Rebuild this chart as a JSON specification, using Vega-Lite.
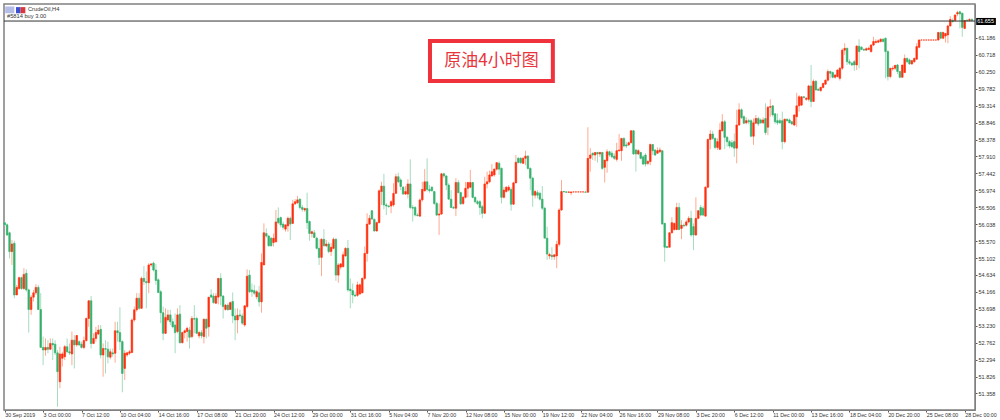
{"$schema":"https://vega.github.io/schema/vega-lite/v6.json","width":971,"height":406,"autosize":{"type":"none"},"padding":{"left":4,"top":4,"right":25,"bottom":10},"background":"#ffffff","view":{"stroke":"#808080","strokeWidth":1.5},"resolve":{"axis":{"x":"independent","y":"independent"}},
"datasets":{"candles":[
{"b":0,"o":56.08,"h":56.11,"l":55.99,"c":56.02},{"b":1,"o":56.02,"h":56.06,"l":55.71,"c":55.74},{"b":2,"o":55.8,"h":55.83,"l":55.09,"c":55.28},{"b":3,"o":55.28,"h":55.6,"l":54.91,"c":55.49},{"b":4,"o":55.51,"h":55.58,"l":53.99,"c":54.08},{"b":5,"o":54.08,"h":54.36,"l":54.08,"c":54.29},{"b":6,"o":54.26,"h":54.59,"l":54.22,"c":54.56},{"b":7,"o":54.56,"h":54.59,"l":54.22,"c":54.26},{"b":8,"o":54.26,"h":54.82,"l":54.22,"c":54.65},{"b":9,"o":54.68,"h":54.79,"l":54.17,"c":54.22},
{"b":10,"o":54.22,"h":54.26,"l":53.04,"c":53.68},{"b":11,"o":53.68,"h":54.08,"l":53.53,"c":54.02},{"b":12,"o":54.02,"h":54.22,"l":53.9,"c":54.14},{"b":13,"o":54.14,"h":54.38,"l":54.08,"c":54.29},{"b":14,"o":54.29,"h":54.36,"l":53.67,"c":53.68},{"b":15,"o":53.68,"h":54.13,"l":52.63,"c":52.63},{"b":16,"o":52.63,"h":52.93,"l":52.14,"c":52.56},{"b":17,"o":52.56,"h":52.88,"l":52.4,"c":52.63},{"b":18,"o":52.63,"h":52.83,"l":52.47,"c":52.58},{"b":19,"o":52.58,"h":52.88,"l":52.56,"c":52.74},
{"b":20,"o":52.74,"h":52.88,"l":52.28,"c":52.7},{"b":21,"o":52.72,"h":52.83,"l":52.42,"c":52.48},{"b":22,"o":52.48,"h":52.56,"l":50.99,"c":51.96},{"b":23,"o":51.68,"h":52.65,"l":51.5,"c":52.45},{"b":24,"o":52.33,"h":52.51,"l":52.1,"c":52.45},{"b":25,"o":52.37,"h":52.7,"l":52.28,"c":52.65},{"b":26,"o":52.65,"h":52.88,"l":52.47,"c":52.51},{"b":27,"o":52.51,"h":52.74,"l":52.42,"c":52.48},{"b":28,"o":52.45,"h":53.07,"l":52.14,"c":52.83},{"b":29,"o":52.83,"h":52.97,"l":52.05,"c":52.7},
{"b":30,"o":52.7,"h":52.97,"l":52.65,"c":52.96},{"b":31,"o":52.79,"h":52.83,"l":52.67,"c":52.7},{"b":32,"o":52.72,"h":52.79,"l":52.6,"c":52.63},{"b":33,"o":52.63,"h":52.93,"l":52.58,"c":52.82},{"b":34,"o":52.82,"h":53.46,"l":52.79,"c":53.43},{"b":35,"o":53.43,"h":53.94,"l":53.2,"c":53.92},{"b":36,"o":53.92,"h":54.05,"l":52.6,"c":52.74},{"b":37,"o":52.74,"h":53.02,"l":52.72,"c":52.88},{"b":38,"o":52.88,"h":53.2,"l":52.79,"c":53.04},{"b":39,"o":53.0,"h":53.25,"l":52.97,"c":53.11},
{"b":40,"o":53.13,"h":53.25,"l":52.33,"c":52.42},{"b":41,"o":52.42,"h":52.74,"l":51.82,"c":52.6},{"b":42,"o":52.6,"h":52.83,"l":51.91,"c":52.58},{"b":43,"o":52.58,"h":52.79,"l":52.19,"c":52.37},{"b":44,"o":52.36,"h":52.6,"l":52.3,"c":52.51},{"b":45,"o":52.48,"h":52.6,"l":52.37,"c":52.45},{"b":46,"o":52.47,"h":53.34,"l":52.21,"c":53.09},{"b":47,"o":53.09,"h":53.34,"l":52.79,"c":53.04},{"b":48,"o":53.04,"h":53.74,"l":52.56,"c":52.79},{"b":49,"o":52.79,"h":52.83,"l":51.39,"c":51.91},
{"b":50,"o":52.05,"h":52.56,"l":51.73,"c":52.47},{"b":51,"o":52.42,"h":52.51,"l":52.37,"c":52.48},{"b":52,"o":52.47,"h":52.56,"l":52.42,"c":52.51},{"b":53,"o":52.49,"h":53.43,"l":52.47,"c":53.39},{"b":54,"o":53.39,"h":53.76,"l":53.34,"c":53.67},{"b":55,"o":53.67,"h":54.13,"l":53.62,"c":53.99},{"b":56,"o":53.99,"h":54.13,"l":53.67,"c":53.71},{"b":57,"o":53.71,"h":54.59,"l":53.71,"c":54.54},{"b":58,"o":54.54,"h":54.88,"l":54.36,"c":54.45},{"b":59,"o":54.45,"h":54.73,"l":53.71,"c":54.42},
{"b":60,"o":54.42,"h":54.96,"l":54.13,"c":54.91},{"b":61,"o":54.91,"h":54.96,"l":54.86,"c":54.94},{"b":62,"o":54.96,"h":55.0,"l":54.73,"c":54.77},{"b":63,"o":54.77,"h":54.94,"l":54.36,"c":54.48},{"b":64,"o":54.5,"h":54.54,"l":54.13,"c":54.15},{"b":65,"o":54.17,"h":54.22,"l":53.3,"c":53.59},{"b":66,"o":53.59,"h":53.76,"l":52.83,"c":53.02},{"b":67,"o":53.02,"h":53.71,"l":53.0,"c":53.46},{"b":68,"o":53.39,"h":53.67,"l":53.34,"c":53.53},{"b":69,"o":53.53,"h":53.67,"l":53.25,"c":53.34},
{"b":70,"o":53.34,"h":53.43,"l":53.16,"c":53.2},{"b":71,"o":53.25,"h":53.57,"l":52.47,"c":53.04},{"b":72,"o":53.07,"h":53.71,"l":53.02,"c":53.53},{"b":73,"o":53.55,"h":53.8,"l":52.74,"c":52.76},{"b":74,"o":52.76,"h":53.07,"l":52.74,"c":53.04},{"b":75,"o":53.04,"h":53.13,"l":52.88,"c":53.09},{"b":76,"o":53.07,"h":53.2,"l":52.79,"c":53.16},{"b":77,"o":53.11,"h":53.2,"l":52.6,"c":52.91},{"b":78,"o":52.93,"h":53.5,"l":52.88,"c":53.43},{"b":79,"o":53.43,"h":53.8,"l":53.02,"c":53.41},
{"b":80,"o":53.43,"h":53.48,"l":53.0,"c":53.02},{"b":81,"o":52.95,"h":53.09,"l":52.88,"c":53.04},{"b":82,"o":53.04,"h":53.11,"l":52.88,"c":52.95},{"b":83,"o":52.93,"h":53.43,"l":52.74,"c":53.41},{"b":84,"o":53.41,"h":53.43,"l":52.88,"c":53.16},{"b":85,"o":53.2,"h":54.02,"l":52.93,"c":54.02},{"b":86,"o":54.08,"h":54.24,"l":54.02,"c":54.02},{"b":87,"o":54.05,"h":54.13,"l":53.84,"c":53.87},{"b":88,"o":53.85,"h":54.13,"l":53.84,"c":54.05},{"b":89,"o":54.02,"h":54.54,"l":53.82,"c":54.54},
{"b":90,"o":54.54,"h":54.68,"l":53.8,"c":54.05},{"b":91,"o":54.05,"h":54.08,"l":53.43,"c":53.76},{"b":92,"o":53.68,"h":53.83,"l":53.65,"c":53.8},{"b":93,"o":53.8,"h":53.85,"l":53.65,"c":53.67},{"b":94,"o":53.68,"h":53.9,"l":53.67,"c":53.87},{"b":95,"o":53.9,"h":54.15,"l":53.3,"c":53.5},{"b":96,"o":53.5,"h":53.71,"l":52.83,"c":53.39},{"b":97,"o":53.39,"h":53.71,"l":53.02,"c":53.52},{"b":98,"o":53.53,"h":53.67,"l":53.43,"c":53.5},{"b":99,"o":53.5,"h":53.57,"l":53.25,"c":53.3},
{"b":100,"o":53.25,"h":53.8,"l":53.2,"c":53.78},{"b":101,"o":53.76,"h":54.79,"l":53.71,"c":54.6},
{"b":102,"o":54.63,"h":54.77,"l":54.13,"c":54.17},{"b":103,"o":54.22,"h":54.4,"l":54.03,"c":54.17},{"b":104,"o":54.2,"h":54.36,"l":54.08,"c":54.13},{"b":105,"o":54.03,"h":54.22,"l":53.96,"c":54.17},{"b":106,"o":54.14,"h":54.33,"l":53.76,"c":53.89},{"b":107,"o":53.89,"h":55.23,"l":53.59,"c":54.98},{"b":108,"o":54.91,"h":56.06,"l":54.91,"c":55.8},{"b":109,"o":55.78,"h":55.92,"l":55.67,"c":55.71},
{"b":110,"o":55.71,"h":55.74,"l":55.42,"c":55.44},{"b":111,"o":55.65,"h":55.69,"l":55.42,"c":55.44},{"b":112,"o":55.53,"h":55.78,"l":55.42,"c":55.65},{"b":113,"o":55.55,"h":56.43,"l":55.53,"c":56.1},{"b":114,"o":56.2,"h":56.5,"l":56.04,"c":56.08},{"b":115,"o":56.22,"h":56.25,"l":55.95,"c":56.02},{"b":116,"o":56.04,"h":56.11,"l":55.88,"c":55.95},{"b":117,"o":55.9,"h":56.02,"l":55.83,"c":56.02},{"b":118,"o":55.99,"h":56.25,"l":55.83,"c":56.2},{"b":119,"o":56.2,"h":56.25,"l":55.6,"c":56.04},
{"b":120,"o":56.06,"h":56.71,"l":56.04,"c":56.6},{"b":121,"o":56.6,"h":56.73,"l":56.57,"c":56.66},{"b":122,"o":56.63,"h":56.82,"l":56.6,"c":56.71},{"b":123,"o":56.73,"h":56.75,"l":56.45,"c":56.5},{"b":124,"o":56.5,"h":56.57,"l":56.38,"c":56.45},{"b":125,"o":56.43,"h":56.5,"l":56.38,"c":56.47},{"b":126,"o":56.47,"h":56.91,"l":55.9,"c":56.08},{"b":127,"o":56.11,"h":56.14,"l":55.58,"c":55.78},{"b":128,"o":55.78,"h":55.86,"l":55.67,"c":55.83},{"b":129,"o":55.8,"h":55.88,"l":55.65,"c":55.67},
{"b":130,"o":55.65,"h":55.69,"l":55.34,"c":55.37},{"b":131,"o":55.37,"h":55.62,"l":54.91,"c":55.12},{"b":132,"o":55.12,"h":55.65,"l":54.6,"c":55.62},{"b":133,"o":55.62,"h":55.9,"l":55.42,"c":55.44},{"b":134,"o":55.44,"h":55.6,"l":55.4,"c":55.49},{"b":135,"o":55.49,"h":55.55,"l":55.23,"c":55.28},{"b":136,"o":55.28,"h":55.51,"l":55.16,"c":55.4},{"b":137,"o":55.37,"h":55.67,"l":55.34,"c":55.62},{"b":138,"o":55.62,"h":55.65,"l":54.47,"c":54.63},{"b":139,"o":54.63,"h":54.96,"l":54.42,"c":54.91},
{"b":140,"o":54.85,"h":54.96,"l":54.79,"c":54.94},{"b":141,"o":54.86,"h":55.28,"l":54.85,"c":55.19},{"b":142,"o":55.16,"h":55.4,"l":55.14,"c":55.37},{"b":143,"o":55.37,"h":55.6,"l":54.17,"c":54.22},{"b":144,"o":54.24,"h":54.54,"l":53.71,"c":54.2},{"b":145,"o":54.2,"h":54.4,"l":53.85,"c":54.08},{"b":146,"o":54.08,"h":54.17,"l":54.03,"c":54.05},{"b":147,"o":54.07,"h":54.45,"l":54.03,"c":54.36},{"b":148,"o":54.11,"h":54.4,"l":54.08,"c":54.36},{"b":149,"o":54.14,"h":54.56,"l":54.13,"c":54.54},
{"b":150,"o":54.54,"h":55.42,"l":54.49,"c":55.23},{"b":151,"o":55.23,"h":56.34,"l":55.0,"c":56.04},{"b":152,"o":56.04,"h":56.29,"l":56.02,"c":56.2},{"b":153,"o":56.41,"h":56.43,"l":56.15,"c":56.18},{"b":154,"o":56.17,"h":56.2,"l":55.83,"c":55.85},{"b":155,"o":55.85,"h":56.11,"l":55.83,"c":56.08},{"b":156,"o":56.08,"h":57.0,"l":56.06,"c":56.96},{"b":157,"o":56.94,"h":57.21,"l":56.57,"c":57.09},{"b":158,"o":57.09,"h":57.43,"l":56.45,"c":56.57},{"b":159,"o":56.57,"h":56.62,"l":56.29,"c":56.54},
{"b":160,"o":56.54,"h":56.57,"l":56.5,"c":56.52},{"b":161,"o":56.54,"h":56.71,"l":56.34,"c":56.66},{"b":162,"o":56.57,"h":57.17,"l":56.52,"c":56.89},{"b":163,"o":56.89,"h":57.43,"l":56.87,"c":57.35},{"b":164,"o":57.35,"h":57.46,"l":57.17,"c":57.21},{"b":165,"o":57.26,"h":57.31,"l":56.98,"c":57.08},{"b":166,"o":57.06,"h":57.09,"l":56.85,"c":56.87},{"b":167,"o":56.87,"h":57.09,"l":56.85,"c":56.94},{"b":168,"o":56.87,"h":57.28,"l":56.75,"c":57.15},{"b":169,"o":57.15,"h":57.83,"l":56.45,"c":56.5},
{"b":170,"o":56.5,"h":56.57,"l":56.11,"c":56.48},{"b":171,"o":56.5,"h":56.54,"l":56.25,"c":56.29},{"b":172,"o":56.29,"h":56.34,"l":56.26,"c":56.27},{"b":173,"o":56.26,"h":56.75,"l":56.25,"c":56.71},{"b":174,"o":56.71,"h":57.21,"l":56.66,"c":57.0},{"b":175,"o":56.96,"h":57.56,"l":56.94,"c":57.21},{"b":176,"o":57.21,"h":57.86,"l":56.94,"c":57.0},{"b":177,"o":57.0,"h":57.12,"l":56.91,"c":56.96},{"b":178,"o":57.06,"h":57.09,"l":56.94,"c":56.96},{"b":179,"o":56.94,"h":56.96,"l":56.57,"c":56.61},
{"b":180,"o":56.61,"h":56.66,"l":56.26,"c":56.29},{"b":181,"o":56.29,"h":56.61,"l":55.74,"c":56.32},{"b":182,"o":56.32,"h":57.46,"l":56.29,"c":57.43},{"b":183,"o":57.43,"h":57.46,"l":57.31,"c":57.37},{"b":184,"o":57.37,"h":57.4,"l":56.98,"c":57.12},{"b":185,"o":57.12,"h":57.17,"l":56.71,"c":56.73},{"b":186,"o":56.73,"h":56.98,"l":56.48,"c":56.5},{"b":187,"o":56.5,"h":56.54,"l":56.47,"c":56.48},{"b":188,"o":56.48,"h":57.31,"l":56.26,"c":57.19},{"b":189,"o":57.19,"h":57.26,"l":56.89,"c":56.91},
{"b":190,"o":56.91,"h":56.94,"l":56.57,"c":56.6},{"b":191,"o":56.61,"h":56.82,"l":56.57,"c":56.78},{"b":192,"o":56.78,"h":57.21,"l":56.75,"c":57.03},{"b":193,"o":57.03,"h":57.21,"l":56.78,"c":57.19},{"b":194,"o":57.06,"h":57.54,"l":57.03,"c":57.19},{"b":195,"o":57.19,"h":57.21,"l":56.75,"c":56.78},{"b":196,"o":56.78,"h":56.8,"l":56.61,"c":56.66},{"b":197,"o":56.66,"h":56.71,"l":56.57,"c":56.61},{"b":198,"o":56.66,"h":56.71,"l":56.29,"c":56.5},{"b":199,"o":56.52,"h":56.57,"l":56.2,"c":56.34},
{"b":200,"o":56.34,"h":57.35,"l":56.32,"c":57.15},{"b":201,"o":57.15,"h":57.49,"l":57.03,"c":57.21},{"b":202,"o":57.21,"h":57.52,"l":57.17,"c":57.4},{"b":203,"o":57.37,"h":57.7,"l":57.35,"c":57.49},{"b":204,"o":57.4,"h":57.58,"l":57.35,"c":57.56},{"b":205,"o":57.56,"h":57.74,"l":57.52,"c":57.74},{"b":206,"o":57.72,"h":57.77,"l":57.4,"c":57.56},
{"b":207,"o":57.58,"h":57.61,"l":56.61,"c":56.78},{"b":208,"o":56.78,"h":57.07,"l":56.75,"c":56.98},{"b":209,"o":56.94,"h":57.09,"l":56.91,"c":57.06},{"b":210,"o":56.98,"h":57.12,"l":56.94,"c":57.06},{"b":211,"o":57.0,"h":57.06,"l":56.41,"c":56.59},
{"b":212,"o":56.59,"h":57.21,"l":56.57,"c":57.18},{"b":213,"o":57.18,"h":57.95,"l":57.17,"c":57.75},{"b":214,"o":57.86,"h":57.9,"l":57.72,"c":57.74},{"b":215,"o":57.86,"h":57.89,"l":57.7,"c":57.74},{"b":216,"o":57.72,"h":57.9,"l":57.7,"c":57.86},{"b":217,"o":57.86,"h":58.07,"l":57.67,"c":57.92},{"b":218,"o":57.92,"h":57.95,"l":57.55,"c":57.58},{"b":219,"o":57.58,"h":57.61,"l":56.98,"c":57.31},{"b":220,"o":57.31,"h":57.35,"l":56.52,"c":56.84},{"b":221,"o":56.84,"h":56.98,"l":56.75,"c":56.94},
{"b":222,"o":56.91,"h":56.98,"l":56.75,"c":56.84},{"b":223,"o":56.89,"h":56.94,"l":56.69,"c":56.73},{"b":224,"o":56.73,"h":57.09,"l":56.43,"c":56.48},{"b":225,"o":56.48,"h":56.52,"l":55.65,"c":55.65},{"b":226,"o":55.65,"h":55.97,"l":55.05,"c":55.21},{"b":227,"o":55.16,"h":55.25,"l":55.07,"c":55.2},{"b":228,"o":55.18,"h":55.4,"l":55.05,"c":55.14},{"b":229,"o":55.14,"h":55.21,"l":55.05,"c":55.19},{"b":230,"o":55.16,"h":55.58,"l":54.82,"c":55.48},{"b":231,"o":55.48,"h":56.48,"l":55.42,"c":56.43},
{"b":232,"o":56.43,"h":57.26,"l":56.41,"c":56.94},{"b":233,"o":56.94,"h":56.96,"l":56.92,"c":56.93},{"b":234,"o":56.93,"h":56.95,"l":56.91,"c":56.92},{"b":235,"o":56.92,"h":56.94,"l":56.9,"c":56.93},{"b":236,"o":56.91,"h":56.94,"l":56.84,"c":56.93},{"b":237,"o":56.93,"h":56.94,"l":56.92,"c":56.93},{"b":238,"o":56.93,"h":56.94,"l":56.92,"c":56.93},{"b":239,"o":56.93,"h":56.94,"l":56.92,"c":56.93},{"b":240,"o":56.93,"h":56.94,"l":56.92,"c":56.93},{"b":241,"o":56.93,"h":56.94,"l":56.92,"c":56.93},
{"b":242,"o":56.93,"h":56.94,"l":56.92,"c":56.92},{"b":243,"o":56.92,"h":58.72,"l":56.92,"c":57.86},{"b":244,"o":57.86,"h":58.14,"l":57.49,"c":57.95},{"b":245,"o":58.0,"h":58.02,"l":57.81,"c":57.95},{"b":246,"o":57.95,"h":58.03,"l":57.79,"c":58.02},{"b":247,"o":58.02,"h":58.04,"l":57.74,"c":57.98},{"b":248,"o":57.98,"h":58.04,"l":57.9,"c":58.02},{"b":249,"o":58.02,"h":58.04,"l":57.54,"c":57.58},{"b":250,"o":57.61,"h":57.81,"l":57.19,"c":57.81},{"b":251,"o":57.79,"h":58.11,"l":57.46,"c":58.04},
{"b":252,"o":58.04,"h":58.07,"l":57.9,"c":57.95},{"b":253,"o":58.0,"h":58.07,"l":57.86,"c":57.9},{"b":254,"o":57.92,"h":58.0,"l":57.81,"c":57.86},{"b":255,"o":57.83,"h":58.29,"l":57.77,"c":58.07},{"b":256,"o":58.07,"h":58.53,"l":58.04,"c":58.09},{"b":257,"o":58.07,"h":58.41,"l":57.79,"c":58.41},{"b":258,"o":58.41,"h":58.44,"l":58.16,"c":58.2},{"b":259,"o":58.23,"h":58.32,"l":58.14,"c":58.2},{"b":260,"o":58.23,"h":58.32,"l":58.2,"c":58.29},{"b":261,"o":58.29,"h":58.64,"l":58.27,"c":58.62},
{"b":262,"o":58.62,"h":58.64,"l":57.95,"c":57.98},{"b":263,"o":58.09,"h":58.11,"l":57.49,"c":57.98},{"b":264,"o":57.98,"h":58.11,"l":57.95,"c":58.07},{"b":265,"o":58.02,"h":58.04,"l":57.83,"c":57.86},{"b":266,"o":57.9,"h":57.95,"l":57.67,"c":57.7},{"b":267,"o":57.95,"h":58.0,"l":57.63,"c":57.7},{"b":268,"o":57.72,"h":57.81,"l":57.67,"c":57.77},{"b":269,"o":57.77,"h":58.27,"l":57.67,"c":58.24},{"b":270,"o":58.24,"h":58.25,"l":57.95,"c":58.07},{"b":271,"o":58.09,"h":58.11,"l":57.92,"c":57.95},
{"b":272,"o":58.0,"h":58.16,"l":57.98,"c":58.07},{"b":273,"o":58.04,"h":58.16,"l":58.0,"c":58.09},{"b":274,"o":58.07,"h":58.09,"l":56.04,"c":56.04},{"b":275,"o":56.06,"h":56.08,"l":55.0,"c":55.4},{"b":276,"o":55.42,"h":55.44,"l":55.38,"c":55.39},{"b":277,"o":55.4,"h":55.82,"l":55.4,"c":55.8},{"b":278,"o":55.8,"h":56.23,"l":55.78,"c":56.08},{"b":279,"o":55.89,"h":56.08,"l":55.86,"c":56.06},{"b":280,"o":55.89,"h":56.63,"l":55.87,"c":56.5},{"b":281,"o":56.5,"h":56.63,"l":55.87,"c":55.89},
{"b":282,"o":55.92,"h":56.15,"l":55.62,"c":56.01},{"b":283,"o":56.01,"h":56.06,"l":55.95,"c":55.99},{"b":284,"o":56.01,"h":56.15,"l":55.97,"c":56.1},{"b":285,"o":56.1,"h":56.26,"l":56.06,"c":56.2},{"b":286,"o":56.2,"h":56.41,"l":55.69,"c":55.74},{"b":287,"o":55.97,"h":56.06,"l":55.32,"c":55.74},{"b":288,"o":55.74,"h":56.78,"l":55.71,"c":56.2},{"b":289,"o":56.2,"h":56.43,"l":56.17,"c":56.41},{"b":290,"o":56.5,"h":56.57,"l":56.26,"c":56.29},{"b":291,"o":56.48,"h":56.54,"l":56.26,"c":56.29},
{"b":292,"o":56.26,"h":57.09,"l":56.25,"c":57.06},{"b":293,"o":57.06,"h":58.41,"l":57.03,"c":58.38},{"b":294,"o":58.38,"h":58.64,"l":58.11,"c":58.53},{"b":295,"o":58.53,"h":58.62,"l":58.37,"c":58.41},{"b":296,"o":58.41,"h":58.44,"l":58.11,"c":58.16},{"b":297,"o":58.16,"h":58.41,"l":58.09,"c":58.32},{"b":298,"o":58.11,"h":58.83,"l":58.09,"c":58.64},{"b":299,"o":58.62,"h":59.08,"l":58.6,"c":58.87},{"b":300,"o":58.87,"h":58.92,"l":58.11,"c":58.44},{"b":301,"o":58.44,"h":58.48,"l":58.18,"c":58.32},
{"b":302,"o":58.32,"h":58.37,"l":58.14,"c":58.2},{"b":303,"o":58.29,"h":58.37,"l":58.14,"c":58.18},{"b":304,"o":58.32,"h":58.55,"l":57.9,"c":58.14},{"b":305,"o":58.14,"h":59.2,"l":57.72,"c":58.78},{"b":306,"o":58.78,"h":59.38,"l":58.75,"c":59.2},{"b":307,"o":59.2,"h":59.24,"l":58.95,"c":58.98},{"b":308,"o":59.01,"h":59.05,"l":58.8,"c":58.83},{"b":309,"o":58.84,"h":58.99,"l":58.8,"c":58.9},{"b":310,"o":58.9,"h":58.95,"l":58.8,"c":58.87},
{"b":311,"o":58.9,"h":58.94,"l":58.44,"c":58.47},{"b":312,"o":58.47,"h":58.96,"l":58.23,"c":58.84},{"b":313,"o":58.83,"h":59.06,"l":58.81,"c":58.96},{"b":314,"o":58.96,"h":59.01,"l":58.75,"c":58.81},{"b":315,"o":58.92,"h":58.96,"l":58.81,"c":58.84},{"b":316,"o":58.84,"h":58.99,"l":58.81,"c":58.92},{"b":317,"o":58.96,"h":59.38,"l":58.5,"c":58.57},{"b":318,"o":58.72,"h":59.31,"l":58.5,"c":59.27},{"b":319,"o":59.27,"h":59.49,"l":59.01,"c":59.29},{"b":320,"o":59.31,"h":59.33,"l":59.01,"c":59.06},{"b":321,"o":59.09,"h":59.1,"l":58.81,"c":58.87},
{"b":322,"o":58.9,"h":59.1,"l":58.78,"c":58.84},{"b":323,"o":58.9,"h":58.96,"l":58.81,"c":58.84},{"b":324,"o":58.9,"h":59.15,"l":58.11,"c":58.32},{"b":325,"o":58.32,"h":58.96,"l":58.27,"c":58.94},{"b":326,"o":58.94,"h":58.96,"l":58.87,"c":58.9},{"b":327,"o":58.92,"h":58.96,"l":58.83,"c":58.84},{"b":328,"o":58.87,"h":58.9,"l":58.78,"c":58.81},{"b":329,"o":58.78,"h":59.06,"l":58.75,"c":59.06},{"b":330,"o":59.01,"h":59.67,"l":58.73,"c":59.31},{"b":331,"o":59.31,"h":59.61,"l":59.15,"c":59.56},
{"b":332,"o":59.33,"h":59.58,"l":59.31,"c":59.56},{"b":333,"o":59.56,"h":59.58,"l":59.52,"c":59.54},{"b":334,"o":59.49,"h":59.56,"l":59.45,"c":59.52},{"b":335,"o":59.49,"h":59.89,"l":59.43,"c":59.86},{"b":336,"o":59.86,"h":60.44,"l":59.27,"c":59.43},{"b":337,"o":59.43,"h":60.04,"l":59.43,"c":59.99},{"b":338,"o":59.99,"h":60.02,"l":59.73,"c":59.75},{"b":339,"o":59.77,"h":59.79,"l":59.73,"c":59.74},{"b":340,"o":59.73,"h":59.84,"l":59.7,"c":59.82},{"b":341,"o":59.82,"h":59.95,"l":59.79,"c":59.93},
{"b":342,"o":59.91,"h":60.04,"l":59.89,"c":60.02},{"b":343,"o":60.02,"h":60.32,"l":59.98,"c":60.26},{"b":344,"o":60.26,"h":60.28,"l":60.07,"c":60.21},{"b":345,"o":60.23,"h":60.26,"l":60.07,"c":60.1},{"b":346,"o":60.1,"h":60.19,"l":60.06,"c":60.16},{"b":347,"o":60.12,"h":60.32,"l":60.1,"c":60.3},{"b":348,"o":60.07,"h":60.39,"l":60.01,"c":60.35},{"b":349,"o":60.35,"h":60.9,"l":60.3,"c":60.85},{"b":350,"o":60.85,"h":61.04,"l":60.72,"c":60.9},{"b":351,"o":60.9,"h":60.92,"l":60.44,"c":60.53},
{"b":352,"o":60.53,"h":60.6,"l":60.44,"c":60.49},{"b":353,"o":60.49,"h":60.53,"l":60.41,"c":60.44},{"b":354,"o":60.53,"h":60.58,"l":60.28,"c":60.44},{"b":355,"o":60.44,"h":60.99,"l":60.3,"c":60.96},{"b":356,"o":60.96,"h":61.15,"l":60.35,"c":60.81},{"b":357,"o":60.93,"h":60.96,"l":60.85,"c":60.87},{"b":358,"o":60.87,"h":60.9,"l":60.84,"c":60.85},{"b":359,"o":60.85,"h":60.93,"l":60.84,"c":60.89},{"b":360,"o":60.87,"h":60.95,"l":60.85,"c":60.9},{"b":361,"o":60.81,"h":61.02,"l":60.78,"c":60.99},
{"b":362,"o":60.99,"h":61.22,"l":60.96,"c":61.09},{"b":363,"o":61.06,"h":61.15,"l":61.04,"c":61.09},{"b":364,"o":61.07,"h":61.15,"l":61.04,"c":61.11},{"b":365,"o":61.09,"h":61.18,"l":61.06,"c":61.15},{"b":366,"o":61.15,"h":61.18,"l":61.06,"c":61.09},{"b":367,"o":61.18,"h":61.2,"l":60.07,"c":60.81},{"b":368,"o":60.81,"h":60.85,"l":60.01,"c":60.12},{"b":369,"o":60.12,"h":60.35,"l":60.07,"c":60.35},{"b":370,"o":60.33,"h":60.41,"l":60.28,"c":60.35},{"b":371,"o":60.35,"h":60.44,"l":60.3,"c":60.43},
{"b":372,"o":60.44,"h":60.47,"l":60.19,"c":60.26},{"b":373,"o":60.26,"h":60.28,"l":60.07,"c":60.1},{"b":374,"o":60.1,"h":60.44,"l":60.1,"c":60.44},{"b":375,"o":60.23,"h":60.73,"l":60.23,"c":60.62},{"b":376,"o":60.62,"h":60.65,"l":60.49,"c":60.53},{"b":377,"o":60.58,"h":60.62,"l":60.44,"c":60.47},{"b":378,"o":60.47,"h":60.58,"l":60.44,"c":60.56},{"b":379,"o":60.53,"h":60.65,"l":60.5,"c":60.62},{"b":380,"o":60.6,"h":61.04,"l":60.58,"c":60.95},{"b":381,"o":60.93,"h":61.15,"l":60.9,"c":61.13},
{"b":382,"o":61.13,"h":61.14,"l":61.12,"c":61.13},{"b":383,"o":61.13,"h":61.14,"l":61.12,"c":61.13},{"b":384,"o":61.13,"h":61.14,"l":61.12,"c":61.13},{"b":385,"o":61.13,"h":61.14,"l":61.12,"c":61.13},{"b":386,"o":61.13,"h":61.14,"l":61.12,"c":61.13},{"b":387,"o":61.13,"h":61.14,"l":61.12,"c":61.13},{"b":388,"o":61.13,"h":61.14,"l":61.12,"c":61.13},{"b":389,"o":61.13,"h":61.34,"l":61.11,"c":61.34},{"b":390,"o":61.34,"h":61.36,"l":61.15,"c":61.18},{"b":391,"o":61.18,"h":61.36,"l":61.15,"c":61.34},
{"b":392,"o":61.24,"h":61.33,"l":61.06,"c":61.31},{"b":393,"o":61.27,"h":61.55,"l":61.04,"c":61.52},{"b":394,"o":61.52,"h":61.79,"l":61.5,"c":61.7},{"b":395,"o":61.67,"h":61.73,"l":61.61,"c":61.64},{"b":396,"o":61.67,"h":61.85,"l":61.64,"c":61.82},{"b":397,"o":61.85,"h":61.94,"l":61.79,"c":61.89},{"b":398,"o":61.91,"h":61.94,"l":61.45,"c":61.85},{"b":399,"o":61.87,"h":61.89,"l":61.22,"c":61.48},{"b":400,"o":61.45,"h":61.68,"l":61.43,"c":61.67},{"b":401,"o":61.68,"h":61.7,"l":61.64,"c":61.67},
{"b":402,"o":61.67,"h":61.73,"l":61.64,"c":61.7},{"b":403,"o":61.7,"h":61.73,"l":61.64,"c":61.67}
]},
"layer":[
{"data":{"name":"candles"},"mark":{"type":"rule","strokeWidth":1},"encoding":{"x":{"field":"b","type":"quantitative","title":null,"scale":{"domain":[-0.3,404.3],"nice":false,"zero":false,"padding":0},"axis":{"orient":"bottom","values":[0,16,32,48,64,80,96,112,128,144,160,176,192,208,224,240,256,272,288,304,320,336,352,368,384,400],"grid":false,"labelExpr":"['30 Sep 2019','3 Oct 00:00','7 Oct 12:00','10 Oct 04:00','14 Oct 16:00','17 Oct 08:00','21 Oct 20:00','24 Oct 12:00','29 Oct 00:00','31 Oct 16:00','5 Nov 04:00','7 Nov 20:00','12 Nov 08:00','15 Nov 00:00','19 Nov 12:00','22 Nov 04:00','26 Nov 16:00','29 Nov 08:00','3 Dec 20:00','6 Dec 12:00','11 Dec 00:00','13 Dec 16:00','18 Dec 04:00','20 Dec 20:00','25 Dec 08:00','28 Dec 00:00'][datum.value/16]","labelAlign":"left","labelBaseline":"top","labelPadding":0,"labelFont":"Liberation Sans","labelFontSize":5.3,"labelColor":"#333333","tickSize":2,"tickColor":"#555555","domainColor":"#808080","labelOverlap":false,"labelFlush":false,"labelBound":false}},"y":{"field":"l","type":"quantitative","title":null,"scale":{"domain":[50.9,62.126],"nice":false,"zero":false},"axis":{"orient":"right","values":[51.358,51.826,52.294,52.762,53.23,53.698,54.166,54.634,55.102,55.57,56.038,56.506,56.974,57.442,57.91,58.378,58.846,59.314,59.782,60.25,60.718,61.186],"format":".3f","grid":false,"labelFont":"Liberation Sans","labelFontSize":5.5,"labelColor":"#333333","labelPadding":1,"tickSize":2,"tickColor":"#555555","domainColor":"#808080","labelOverlap":false}},"y2":{"field":"h"},"color":{"condition":{"test":"datum.c>=datum.o","value":"#ffab92"},"value":"#a6dcc0"}}},
{"data":{"name":"candles"},"mark":{"type":"bar","size":1.6,"orient":"vertical","strokeWidth":0.6},"encoding":{"x":{"field":"b","type":"quantitative","axis":null,"scale":{"domain":[-0.3,404.3],"nice":false,"zero":false,"padding":0}},"y":{"field":"o","type":"quantitative","axis":null,"scale":{"domain":[50.9,62.126],"nice":false,"zero":false}},"y2":{"field":"c"},"color":{"condition":{"test":"datum.c>=datum.o","value":"#ff2f0f"},"value":"#36b06c"},"stroke":{"condition":{"test":"datum.c>=datum.o","value":"#ff2f0f"},"value":"#36b06c"}}},
{"data":{"values":[{"price":61.655}]},"mark":{"type":"rule","stroke":"#333333","strokeWidth":1},"encoding":{"y":{"field":"price","type":"quantitative","axis":null,"scale":{"domain":[50.9,62.126],"nice":false,"zero":false}}}},
{"data":{"values":[{"x":404.8,"x2":413,"y":61.74,"y2":61.546}]},"mark":{"type":"rect","fill":"#000000"},"encoding":{"x":{"field":"x","type":"quantitative","axis":null,"scale":{"domain":[-0.3,404.3],"nice":false,"zero":false,"padding":0}},"x2":{"field":"x2"},"y":{"field":"y","type":"quantitative","axis":null,"scale":{"domain":[50.9,62.126],"nice":false,"zero":false}},"y2":{"field":"y2"}}},
{"data":{"values":[{"x":405.2,"y":61.645,"t":"61.655"}]},"mark":{"type":"text","align":"left","baseline":"middle","fontSize":5.5,"font":"Liberation Sans","color":"#ffffff"},"encoding":{"x":{"field":"x","type":"quantitative","axis":null,"scale":{"domain":[-0.3,404.3],"nice":false,"zero":false,"padding":0}},"y":{"field":"y","type":"quantitative","axis":null,"scale":{"domain":[50.9,62.126],"nice":false,"zero":false}},"text":{"field":"t"}}},
{"data":{"values":[{"x":177.2,"x2":228.4,"y":61.1,"y2":60.0}]},"mark":{"type":"rect","fill":"#ffffff","stroke":"#f0323c","strokeWidth":4},"encoding":{"x":{"field":"x","type":"quantitative","axis":null,"scale":{"domain":[-0.3,404.3],"nice":false,"zero":false,"padding":0}},"x2":{"field":"x2"},"y":{"field":"y","type":"quantitative","axis":null,"scale":{"domain":[50.9,62.126],"nice":false,"zero":false}},"y2":{"field":"y2"}}},
{"data":{"values":[{"x":202.8,"y":60.55,"t":"原油4小时图"}]},"mark":{"type":"text","align":"center","baseline":"middle","fontSize":17,"font":"Noto Sans CJK SC","color":"#e8353c"},"encoding":{"x":{"field":"x","type":"quantitative","axis":null,"scale":{"domain":[-0.3,404.3],"nice":false,"zero":false,"padding":0}},"y":{"field":"y","type":"quantitative","axis":null,"scale":{"domain":[50.9,62.126],"nice":false,"zero":false}},"text":{"field":"t"}}},
{"data":{"values":[{"x":9.7,"y":61.974,"t":"CrudeOil,H4"},{"x":0.95,"y":61.795,"t":"#5814 buy 3.00"}]},"mark":{"type":"text","align":"left","baseline":"middle","fontSize":5.7,"font":"Liberation Sans","color":"#333333"},"encoding":{"x":{"field":"x","type":"quantitative","axis":null,"scale":{"domain":[-0.3,404.3],"nice":false,"zero":false,"padding":0}},"y":{"field":"y","type":"quantitative","axis":null,"scale":{"domain":[50.9,62.126],"nice":false,"zero":false}},"text":{"field":"t"}}},
{"data":{"values":[{"x":0.2,"x2":4,"y":62.06,"y2":61.87}]},"mark":{"type":"rect","fill":"#b4bce8"},"encoding":{"x":{"field":"x","type":"quantitative","axis":null,"scale":{"domain":[-0.3,404.3],"nice":false,"zero":false,"padding":0}},"x2":{"field":"x2"},"y":{"field":"y","type":"quantitative","axis":null,"scale":{"domain":[50.9,62.126],"nice":false,"zero":false}},"y2":{"field":"y2"}}},
{"data":{"values":[{"x":4.7,"x2":6.6,"y":62.04,"y2":61.87}]},"mark":{"type":"rect","fill":"#3a50d0"},"encoding":{"x":{"field":"x","type":"quantitative","axis":null,"scale":{"domain":[-0.3,404.3],"nice":false,"zero":false,"padding":0}},"x2":{"field":"x2"},"y":{"field":"y","type":"quantitative","axis":null,"scale":{"domain":[50.9,62.126],"nice":false,"zero":false}},"y2":{"field":"y2"}}},
{"data":{"values":[{"x":6.6,"x2":8.6,"y":62.04,"y2":61.87}]},"mark":{"type":"rect","fill":"#d8383c"},"encoding":{"x":{"field":"x","type":"quantitative","axis":null,"scale":{"domain":[-0.3,404.3],"nice":false,"zero":false,"padding":0}},"x2":{"field":"x2"},"y":{"field":"y","type":"quantitative","axis":null,"scale":{"domain":[50.9,62.126],"nice":false,"zero":false}},"y2":{"field":"y2"}}}
]}
